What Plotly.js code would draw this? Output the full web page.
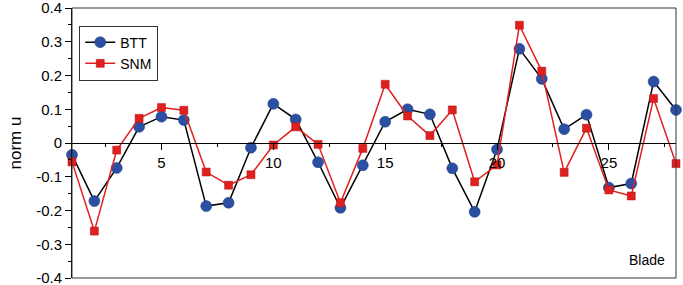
<!DOCTYPE html>
<html><head><meta charset="utf-8">
<script src="https://cdn.plot.ly/plotly-3.0.1.min.js"></script>
<style>html,body{margin:0;padding:0;background:#fff}#c{width:683px;height:285px}</style>
</head><body><div id="c"></div>
<script>
const blades = [1,2,3,4,5,6,7,8,9,10,11,12,13,14,15,16,17,18,19,20,21,22,23,24,25,26,27,28];
const btt = [-0.035,-0.172,-0.074,0.048,0.078,0.068,-0.187,-0.177,-0.014,0.116,0.070,-0.057,-0.192,-0.066,0.063,0.100,0.085,-0.075,-0.204,-0.019,0.279,0.190,0.041,0.084,-0.132,-0.120,0.182,0.098];
const snm = [-0.056,-0.261,-0.021,0.073,0.105,0.097,-0.086,-0.125,-0.094,-0.006,0.048,-0.004,-0.177,-0.016,0.174,0.080,0.022,0.098,-0.115,-0.065,0.349,0.213,-0.087,0.044,-0.139,-0.157,0.132,-0.061];
const xTickVals = [5,10,15,20,25];
const yTickVals = [-0.4,-0.3,-0.2,-0.1,0,0.1,0.2,0.3,0.4];
const yTickText = ['-0.4','-0.3','-0.2','-0.1','0','0.1','0.2','0.3','0.4'];

const font = 'Arial, "Liberation Sans", sans-serif';
const data = [
  {x: blades, y: btt, name: 'BTT', mode: 'lines+markers', cliponaxis: false,
   line: {color: '#000000', width: 1.5},
   marker: {symbol: 'circle', size: 11, color: '#2b4fa3', line: {color: '#1d3a80', width: 0.5}}},
  {x: blades, y: snm, name: 'SNM', mode: 'lines+markers', cliponaxis: false,
   line: {color: '#e0201e', width: 1.5},
   marker: {symbol: 'square', size: 8, color: '#e0201e', line: {color: '#b01010', width: 0.5}}}
];
const layout = {
  width: 683, height: 285,
  margin: {l: 72, r: 7, t: 8, b: 7},
  paper_bgcolor: '#fff', plot_bgcolor: '#fff',
  font: {family: font, size: 15, color: '#000'},
  showlegend: true,
  legend: {x: 0.012, y: 0.935, xanchor: 'left', yanchor: 'top', bgcolor: '#fff',
           bordercolor: '#333', borderwidth: 1, font: {size: 14, family: font},
           tracegroupgap: 0, itemwidth: 30},
  xaxis: {range: [1, 28], anchor: 'free', position: 0.5, showgrid: false, zeroline: false,
          showline: true, linecolor: '#000', linewidth: 1,
          tickmode: 'array', tickvals: xTickVals, ticks: 'outside', ticklen: 6, tickcolor: '#000',
          minor: {dtick: 2.5, tick0: 0, ticks: 'outside', ticklen: 3, tickcolor: '#000'},
          tickfont: {size: 15, family: font}},
  yaxis: {range: [-0.4, 0.4], showgrid: false, zeroline: false, showline: true, linecolor: '#000', linewidth: 1,
          tickmode: 'array', tickvals: yTickVals, ticktext: yTickText, ticks: 'outside', ticklen: 6, tickcolor: '#000',
          ticklabeloverflow: 'allow',
          minor: {dtick: 0.05, tick0: 0, ticks: 'outside', ticklen: 3, tickcolor: '#000'},
          tickfont: {size: 15, family: font},
          title: {text: 'norm u', font: {size: 17, family: font}, standoff: 10}},
  shapes: [{type: 'rect', xref: 'paper', yref: 'paper', x0: 0, x1: 1, y0: 0, y1: 1,
            line: {color: '#333', width: 1}}],
  annotations: [{text: 'Blade', xref: 'paper', yref: 'paper', x: 0.985, y: 0.03,
                 xanchor: 'right', yanchor: 'bottom', showarrow: false, font: {size: 14, family: font}}]
};
Plotly.newPlot('c', data, layout, {staticPlot: true});
</script></body></html>
